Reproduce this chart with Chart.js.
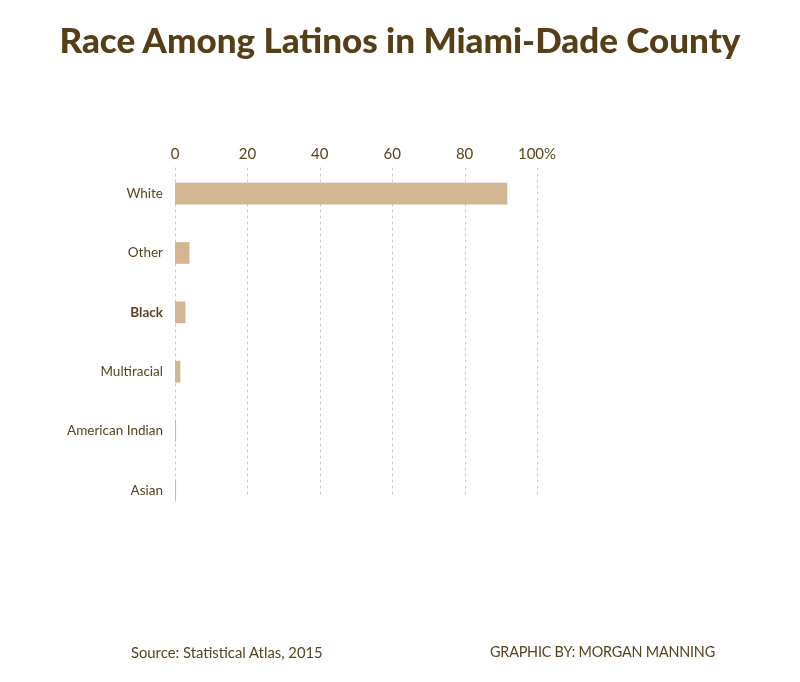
<!DOCTYPE html>
<html>
<head>
<meta charset="utf-8">
<script src="https://cdn.jsdelivr.net/npm/chart.js@4.4.1/dist/chart.umd.min.js"></script>
<style>
  html, body { margin: 0; padding: 0; background: #ffffff; }
  #wrap { position: relative; width: 800px; height: 682px; overflow: hidden; font-family: Lato, "Open Sans", sans-serif; }
  #title { position: absolute; left: 0; top: 18px; width: 800px; text-align: center; font-size: 35px; font-weight: 900; color: #563f17; white-space: nowrap; }
  #chartBox { position: absolute; left: 0; top: 0; width: 800px; height: 682px; }
  .foot { position: absolute; top: 643px; font-size: 14.8px; color: #5a4420; white-space: nowrap; }
</style>
</head>
<body>
<div id="wrap">
  <div id="chartBox"><canvas id="c"></canvas></div>
  <div id="title">Race Among Latinos in Miami-Dade County</div>
  <div class="foot" style="left:131px">Source: Statistical Atlas, 2015</div>
  <div class="foot" style="left:490px; font-size:14.4px; letter-spacing:-0.2px">GRAPHIC BY: MORGAN MANNING</div>
</div>
<script>
const categories = ["White", "Other", "Black", "Multiracial", "American Indian", "Asian"];
const percentValues = [91.7, 3.9, 2.8, 1.4, 0.2, 0.2];
const tickValues = [0, 20, 40, 60, 80, 100];
const tickLabels = ["0", "20", "40", "60", "80", "100%"];

const textColor = "#5a4420";

// Dashed vertical grid lines, drawn at the x-scale tick positions, spanning the category rows
const dashGrid = {
  id: "dashGrid",
  beforeDatasetsDraw(chart) {
    const xs = chart.scales.x, ys = chart.scales.y, ctx = chart.ctx;
    const step = ys.getPixelForValue(1) - ys.getPixelForValue(0);
    const top = ys.getPixelForValue(0) - step * 0.44;
    const bottom = ys.getPixelForValue(categories.length - 1) + step * 0.09;
    ctx.save();
    ctx.strokeStyle = "#cccccc";
    ctx.lineWidth = 1;
    ctx.setLineDash([3, 3]);
    tickValues.forEach(v => {
      const x = Math.round(xs.getPixelForValue(v)) + 0.5;
      ctx.beginPath();
      ctx.moveTo(x, top);
      ctx.lineTo(x, bottom);
      ctx.stroke();
    });
    ctx.restore();
  }
};

new Chart(document.getElementById("c"), {
  type: "bar",
  data: {
    labels: categories,
    datasets: [{
      data: percentValues,
      backgroundColor: "#d3b591",
      borderWidth: 0,
      barThickness: 21
    }]
  },
  plugins: [dashGrid],
  options: {
    indexAxis: "y",
    responsive: true,
    maintainAspectRatio: false,
    animation: false,
    layout: { padding: { left: 0, right: 263, top: 0, bottom: 162 } },
    plugins: { legend: { display: false }, tooltip: { enabled: false }, title: { display: false } },
    scales: {
      x: {
        position: "top",
        min: 0, max: 100,
        afterBuildTicks: (s) => { s.ticks = tickValues.map(v => ({ value: v })); },
        afterFit: (s) => { s.height = 164; },
        ticks: {
          color: textColor,
          font: { family: "Lato", size: 15 },
          padding: 1,
          callback: (v) => { const i = tickValues.indexOf(v); return i >= 0 ? tickLabels[i] : ""; }
        },
        grid: { display: false, drawTicks: false },
        border: { display: false }
      },
      y: {
        afterFit: (s) => { s.width = 175; },
        ticks: {
          color: textColor,
          padding: 12,
          font: (ctx) => ({ family: "Lato", size: 13.5, weight: categories[ctx.index] === "Black" ? "bold" : "normal" })
        },
        grid: { display: false, drawTicks: false },
        border: { display: false }
      }
    }
  }
});
</script>
</body>
</html>
